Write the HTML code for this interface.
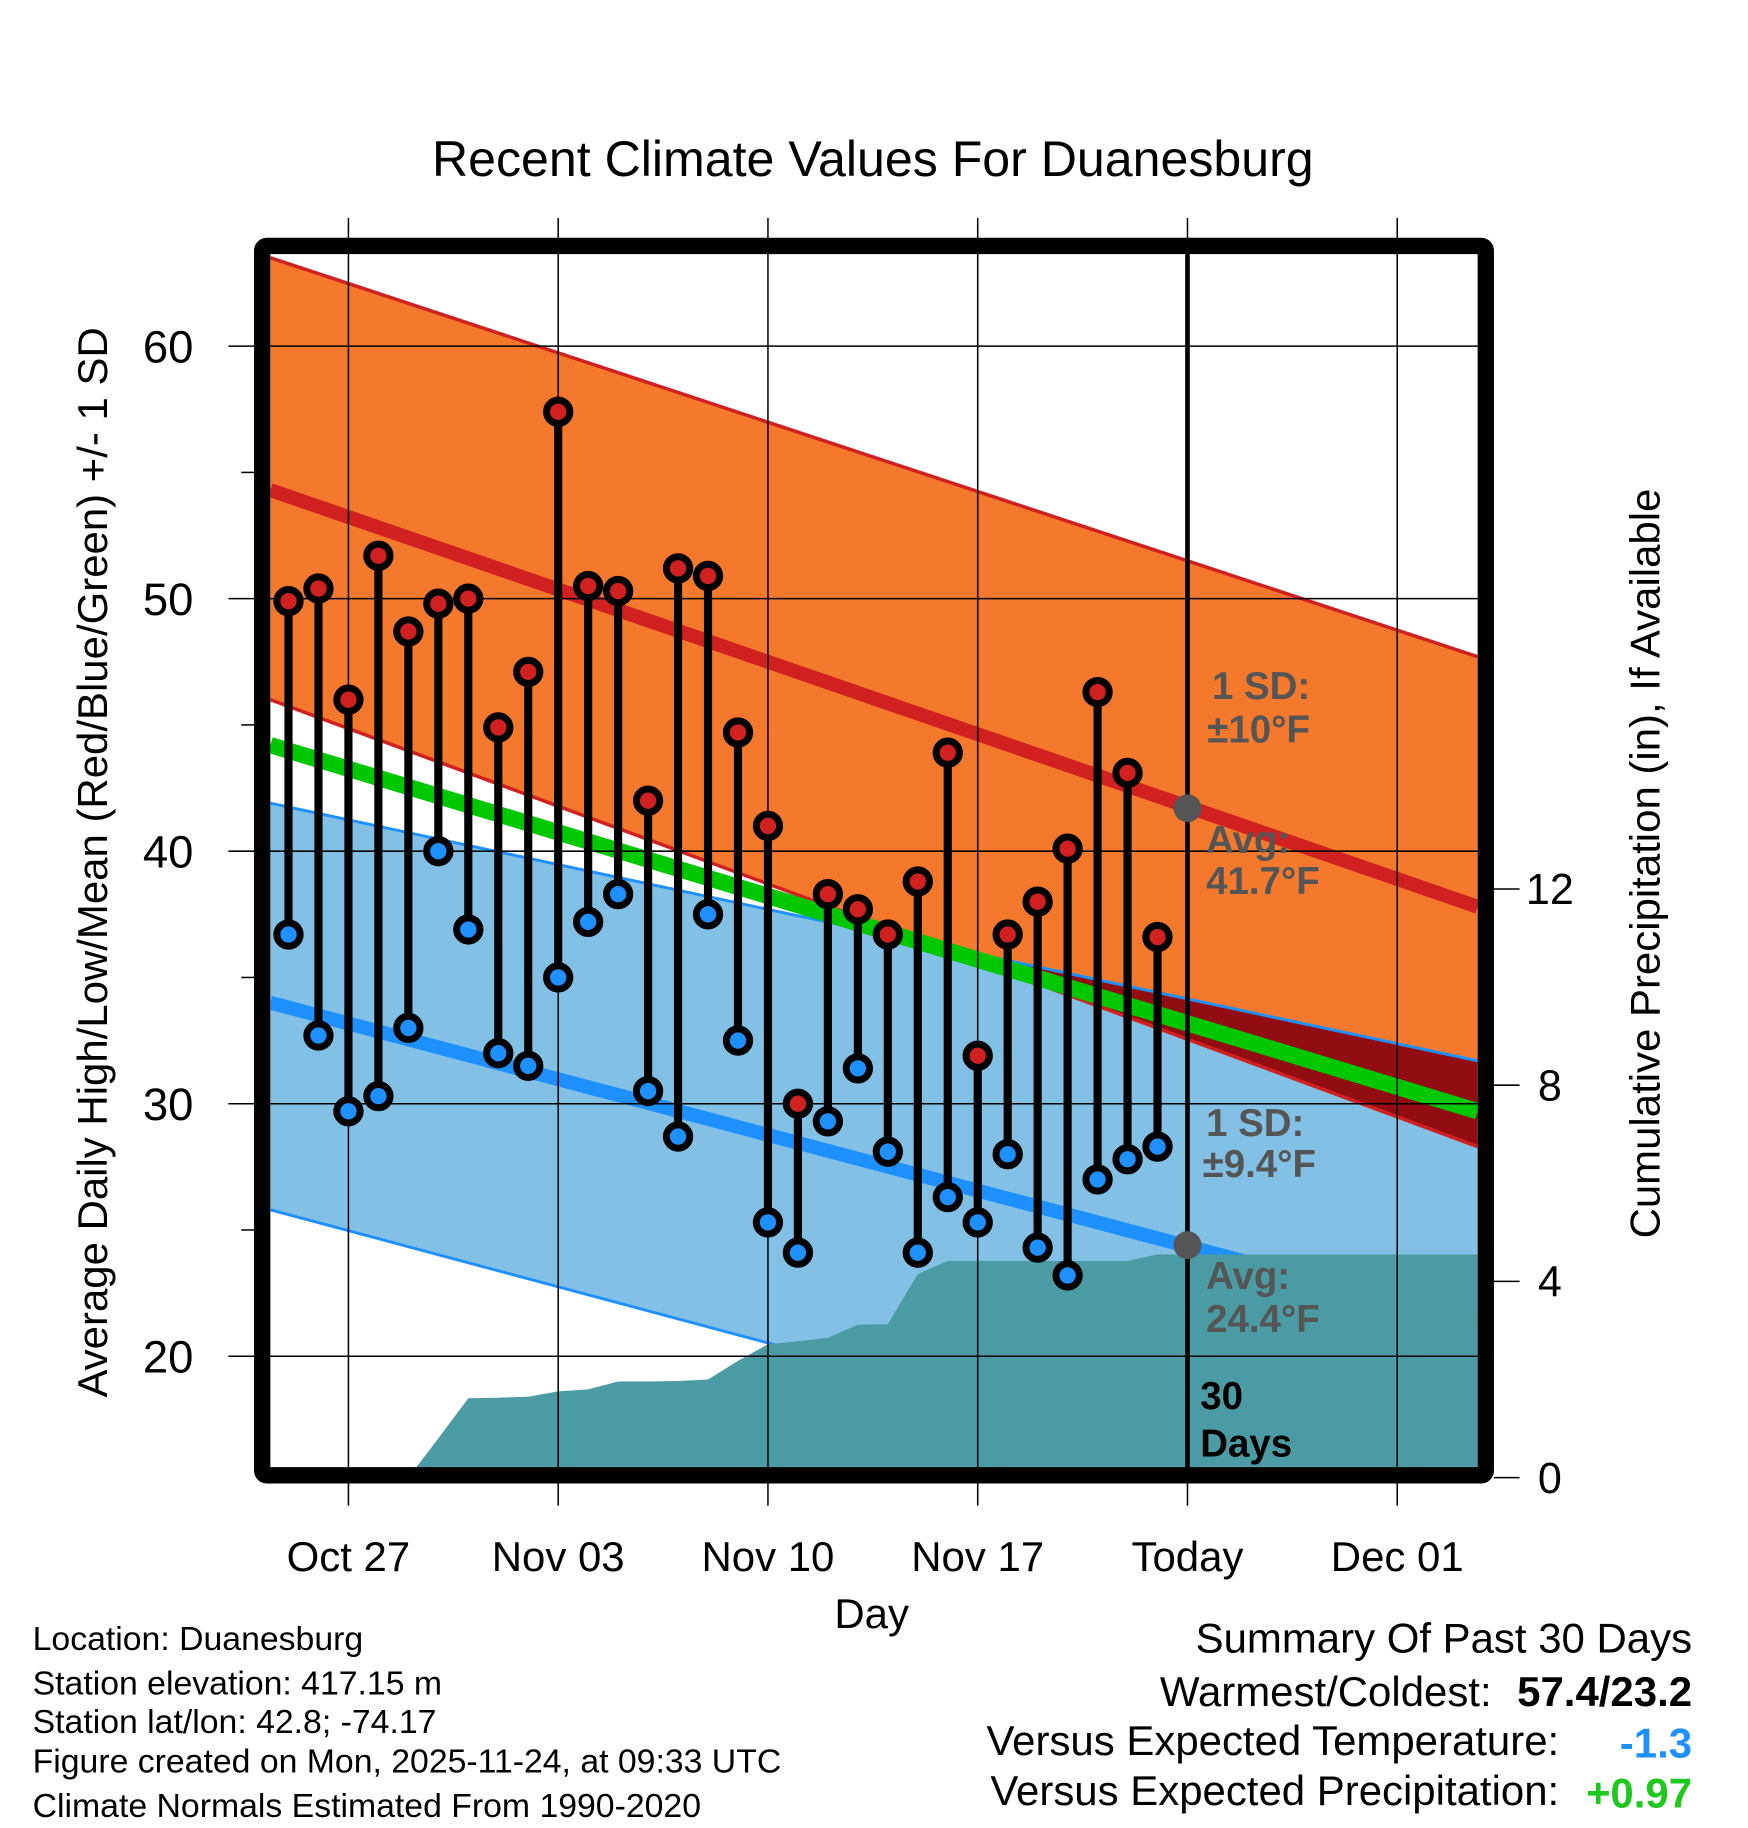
<!DOCTYPE html>
<html><head><meta charset="utf-8"><style>
html,body{margin:0;padding:0;background:#fff}
svg{display:block}
text{font-family:"Liberation Sans",sans-serif}
</style></head><body>
<svg id="chart" width="1748" height="1828" viewBox="0 0 1500 1568.6" xmlns="http://www.w3.org/2000/svg">
<defs>
<clipPath id="plotclip"><rect x="232" y="218" width="1036" height="1042"/></clipPath>
</defs>
<text x="749" y="151" font-size="43" text-anchor="middle">Recent Climate Values For Duanesburg</text>
<g id="bands" clip-path="url(#plotclip)"></g>
<g id="grid"></g>
<g id="marks" clip-path="url(#plotclip)"></g>
<g id="annot" font-size="33" font-weight="bold">
<text x="1040" y="600" fill="#555">1 SD:</text>
<text x="1036" y="637" fill="#555">±10°F</text>
<text x="1035" y="732" fill="#555">Avg:</text>
<text x="1035" y="767" fill="#555">41.7°F</text>
<text x="1035" y="975" fill="#555">1 SD:</text>
<text x="1032" y="1010" fill="#555">±9.4°F</text>
<text x="1035" y="1106" fill="#555">Avg:</text>
<text x="1035" y="1143" fill="#555">24.4°F</text>
<text x="1030" y="1209">30</text>
<text x="1030" y="1250">Days</text>
</g>
<rect x="225" y="211" width="1050" height="1055" rx="4" fill="none" stroke="#000" stroke-width="14"/>
<g id="axes"></g>
<text x="748" y="1397" font-size="36" text-anchor="middle">Day</text>
<text transform="translate(92,740) rotate(-90)" font-size="36" text-anchor="middle">Average Daily High/Low/Mean (Red/Blue/Green) +/- 1 SD</text>
<text transform="translate(1424,741) rotate(-90)" font-size="36" text-anchor="middle">Cumulative Precipitation (in), If Available</text>
<g font-size="29">
<text x="28" y="1416">Location: Duanesburg</text>
<text x="28" y="1454">Station elevation: 417.15 m</text>
<text x="28" y="1487">Station lat/lon: 42.8; -74.17</text>
<text x="28" y="1521">Figure created on Mon, 2025-11-24, at 09:33 UTC</text>
<text x="28" y="1559">Climate Normals Estimated From 1990-2020</text>
</g>
<g font-size="36">
<text x="1452" y="1418" text-anchor="end">Summary Of Past 30 Days</text>
<text x="1280" y="1464" text-anchor="end">Warmest/Coldest:</text>
<text x="1452" y="1464" text-anchor="end" font-weight="bold">57.4/23.2</text>
<text x="1338" y="1506" text-anchor="end">Versus Expected Temperature:</text>
<text x="1452" y="1508" text-anchor="end" font-weight="bold" fill="#1e90ff">-1.3</text>
<text x="1338" y="1549" text-anchor="end">Versus Expected Precipitation:</text>
<text x="1452" y="1551" text-anchor="end" font-weight="bold" fill="#1ec81e">+0.97</text>
</g>
</svg>
<script>
// day offsets relative to Oct 27
const days = [-2,-1,0,1,2,3,4,5,6,7,8,9,10,11,12,13,14,15,16,17,18,19,20,21,22,23,24,25,26,27];
const highs = [49.9,50.4,46.0,51.7,48.7,49.8,50.0,44.9,47.1,57.4,50.5,50.3,42.0,51.2,50.9,44.7,41.0,30.0,38.3,37.7,36.7,38.8,43.9,31.9,36.7,38.0,40.1,46.3,43.1,36.6];
const lows = [36.7,32.7,29.7,30.3,33.0,40.0,36.9,32.0,31.5,35.0,37.2,38.3,30.5,28.7,37.5,32.5,25.3,24.1,29.3,31.4,28.1,24.1,26.3,25.3,28.0,24.3,23.2,27.0,27.8,28.3];
const precip = [0,0,0,0,0,0.8,1.62,1.63,1.65,1.76,1.8,1.96,1.96,1.97,2.0,2.38,2.72,2.78,2.85,3.12,3.13,4.15,4.42,4.42,4.42,4.42,4.42,4.42,4.42,4.55];
// normals at plot left edge and right edge [left,right]
const normHighMean = [54.3,37.8];
const normHighUp = [63.5,47.7];
const normHighLo = [46.0,28.3];
const normLowMean = [34.0,21.3];
const normLowUp = [41.9,31.7];
const normLowLo = [25.8,13.0];
const normMean = [44.2,29.7];
const todayDay = 28;
const todayHigh = 41.7, todayLow = 24.4;
const xTickDays = [0,7,14,21,28,35];
const xTickLabels = ["Oct 27","Nov 03","Nov 10","Nov 17","Today","Dec 01"];
const yTicks = [20,30,40,50,60];
const yMinor = [25,35,45,55];
const y2Ticks = [0,4,8,12];

const NS="http://www.w3.org/2000/svg";
const X0=232,X1=1268;
const x = d => 299 + d*180/7;
const y = v => 297 + (60-v)*21.67;
const y2 = p => 1268 - p*42.1;
function el(tag,attrs,parent){const e=document.createElementNS(NS,tag);for(const k in attrs)e.setAttribute(k,attrs[k]);parent.appendChild(e);return e;}
const bands=document.getElementById('bands'),grid=document.getElementById('grid'),marks=document.getElementById('marks'),axes=document.getElementById('axes');
function band(a,b){return `${X0},${y(a[0])} ${X1},${y(a[1])} ${X1},${y(b[1])} ${X0},${y(b[0])}`;}
function line(a){return {x1:X0,y1:y(a[0]),x2:X1,y2:y(a[1])};}
let e;
e=el('polygon',{points:band(normHighUp,normHighLo),fill:'#f5792d'},bands);

e=el('polygon',{points:band(normLowUp,normLowLo),fill:'#83c0e6'},bands);

const cp=el('clipPath',{id:'lowclip'},document.querySelector('defs'));
el('polygon',{points:band(normLowUp,normLowLo)},cp);
e=el('polygon',{points:band(normHighUp,normHighLo),fill:'#920d12','clip-path':'url(#lowclip)'},bands);

e=el('line',Object.assign(line(normHighUp),{stroke:'#d02020','stroke-width':3}),bands);

e=el('line',Object.assign(line(normHighLo),{stroke:'#d02020','stroke-width':3}),bands);

e=el('line',Object.assign(line(normLowUp),{stroke:'#1e90ff','stroke-width':2.5}),bands);

e=el('line',Object.assign(line(normLowLo),{stroke:'#1e90ff','stroke-width':2.5}),bands);

e=el('line',Object.assign(line(normMean),{stroke:'#00c800','stroke-width':14}),bands);

e=el('line',Object.assign(line(normHighMean),{stroke:'#d02020','stroke-width':12}),bands);

e=el('line',Object.assign(line(normLowMean),{stroke:'#1e90ff','stroke-width':12}),bands);

let pts=`${x(days[0])},${y2(0)} `;
days.forEach((d,i)=>{pts+=`${x(d)},${y2(precip[i])} `;});
pts+=`${X1},${y2(precip[precip.length-1])} ${X1},${y2(0)}`;
e=el('polygon',{points:pts,fill:'#4a9ba3'},bands);

xTickDays.forEach((d,i)=>{
  e=el('line',{x1:x(d),y1:187,x2:x(d),y2:1292,stroke:'#000','stroke-width':1.3},grid);
  
  e=el('text',{x:x(d),y:1348,'font-size':36,'text-anchor':'middle'},axes);
  e.textContent=xTickLabels[i];
  
});
yTicks.forEach(v=>{
  e=el('line',{x1:196,y1:y(v),x2:X1,y2:y(v),stroke:'#000','stroke-width':1.3},grid);
  
  e=el('text',{x:166,y:y(v)+14,'font-size':39,'text-anchor':'end'},axes);
  e.textContent=v;
  
});
yMinor.forEach(v=>{
  e=el('line',{x1:207,y1:y(v),x2:218,y2:y(v),stroke:'#000','stroke-width':1.3},grid);
  
});
y2Ticks.forEach(p=>{
  e=el('line',{x1:1282,y1:y2(p),x2:1304,y2:y2(p),stroke:'#000','stroke-width':1.3},axes);
  
  e=el('text',{x:1330,y:y2(p)+13,'font-size':37,'text-anchor':'middle'},axes);
  e.textContent=p;
  
});
e=el('line',{x1:x(todayDay),y1:218,x2:x(todayDay),y2:1260,stroke:'#000','stroke-width':4},marks);

e=el('circle',{cx:x(todayDay),cy:y(todayHigh),r:12,fill:'#555'},marks);

e=el('circle',{cx:x(todayDay),cy:y(todayLow),r:12,fill:'#555'},marks);

days.forEach((d,i)=>{
  e=el('line',{x1:x(d),y1:y(highs[i]),x2:x(d),y2:y(lows[i]),stroke:'#000','stroke-width':7},marks);
  
});
days.forEach((d,i)=>{
  e=el('circle',{cx:x(d),cy:y(highs[i]),r:10,fill:'#d02020',stroke:'#000','stroke-width':6},marks);
  
  e=el('circle',{cx:x(d),cy:y(lows[i]),r:10,fill:'#1e90ff',stroke:'#000','stroke-width':6},marks);
  
});
</script>
</body></html>
